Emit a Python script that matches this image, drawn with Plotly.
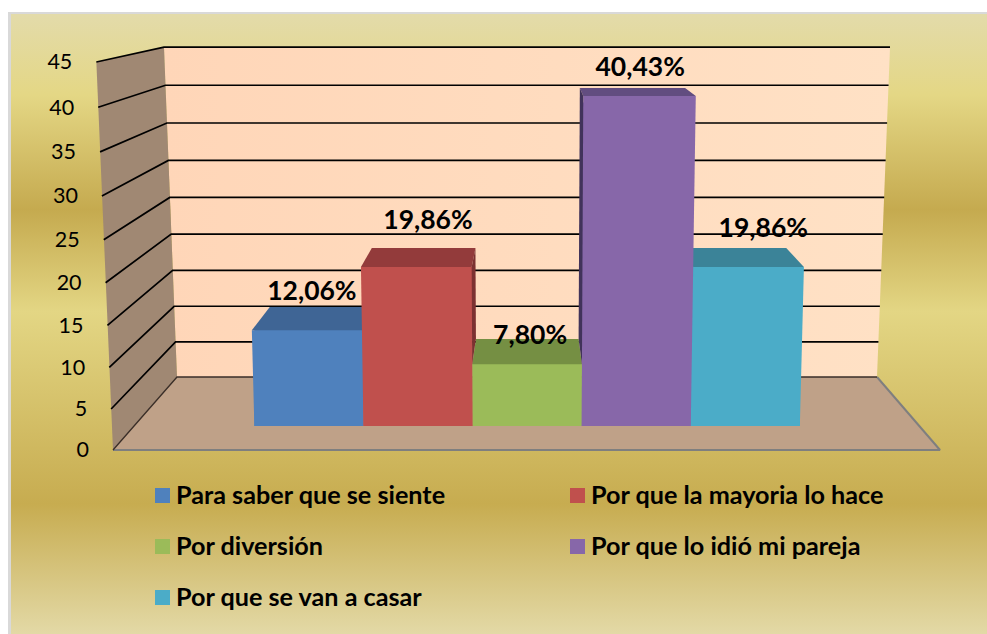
import plotly.graph_objects as go

# ---- data -------------------------------------------------------------
categories = ["Para saber que se siente", "Por que la mayoria lo hace", "Por diversión",
              "Por que lo idió mi pareja", "Por que se van a casar"]
values = [12.06, 19.86, 7.80, 40.43, 19.86]
value_labels = ["12,06%", "19,86%", "7,80%", "40,43%", "19,86%"]
tick_values = [0, 5, 10, 15, 20, 25, 30, 35, 40, 45]

# ---- style ------------------------------------------------------------
front_colors = ["#4F81BD", "#C0504D", "#9BBB59", "#8767A9", "#4BACC8"]
top_colors = ["#3F6595", "#933B3B", "#758F43", "#624D80", "#3B8398"]
side_colors = ["#33527A", "#7C3131", "#5F7536", "#41335A", "#30697A"]
label_dx = [3, 10, 3, 4, 18]      # label offset from bar centre, px
label_dy = [37, 45, 27, 27, 37]   # label offset above the front top, px
paint_order = [0, 4, 2, 1, 3]

W, H = 987, 634
BAR_PX_X, BAR_PX_Y = 109.1, 8.0   # px per category, px per value unit
X0_PX, Y0_PX = 308.9, 426.0       # position of category 0 and value 0
VP_X, VP_Y, DEPTH, SPREAD = 530.0, -30.0, 0.0645, 9.5e-5


def dx(px):
    return (px - X0_PX) / BAR_PX_X


def dy(py):
    return (Y0_PX - py) / BAR_PX_Y


x_range = [dx(0), dx(W)]
y_range = [dy(H), dy(0)]


# perspective of the chart box, in screen px
def bar_py(v):
    return Y0_PX - (7.845 * v + 0.0078 * v * v)


def bar_px(edge, py):
    base = X0_PX + (edge - 0.5) * BAR_PX_X
    return VP_X + (base - VP_X) * (1 + SPREAD * (Y0_PX - py))


def back(px, py):
    return px + DEPTH * (VP_X - px), py + DEPTH * (VP_Y - py)


def wall_back_py(v):
    return 377 - (7.0 * v + 0.00733 * v * v)


def wall_front_py(v):
    return 450 - (8.15 * v + 0.0105 * v * v)


def wall_front_px(v):
    return 113 - 0.37 * v


def poly(points, color, xa="x", ya="y", **kw):
    xs = [dx(p[0]) for p in points] + [dx(points[0][0])]
    ys = [dy(p[1]) for p in points] + [dy(points[0][1])]
    return go.Scatter(x=xs, y=ys, mode="lines", fill="toself", fillcolor=color,
                      line=dict(width=0, color=color), xaxis=xa, yaxis=ya,
                      hoverinfo="skip", showlegend=False, **kw)


fig = go.Figure()

# chart background
fig.add_trace(poly([(8, 12), (W, 12), (W, H), (8, H)], "#D9D9D9"))
bg_gradient = dict(type="vertical", colorscale=[
    [0.00, "#E3D9A6"], [0.21, "#C7AC50"], [0.52, "#E3D684"], [0.684, "#C5AA4F"], [0.87, "#E4D785"], [1.00, "#E3DBAA"]])
fig.add_trace(poly([(11, 14), (W, 14), (W, H), (11, H)], "#E3D684", fillgradient=bg_gradient))

# walls and floor
t = max(tick_values)
fig.add_trace(poly([(177, 377), (877, 377), (877 + 0.289 * t, wall_back_py(t)), (177 - 0.289 * t, wall_back_py(t))],
                   "#FFD9BC",
                   fillgradient=dict(type="horizontal",
                                     colorscale=[[0, "#FFD6B8"], [1, "#FFE1C5"]])))
fig.add_trace(poly([(wall_front_px(0), wall_front_py(0)), (177, 377), (177 - 0.289 * t, wall_back_py(t)),
                    (wall_front_px(t), wall_front_py(t))], "#A08873"))
fig.add_trace(poly([(113, 450), (177, 377), (877, 377), (940, 450)], "#BFA188"))


def line(points, color, width):
    fig.add_trace(go.Scatter(x=[dx(p[0]) for p in points], y=[dy(p[1]) for p in points], mode="lines",
                             line=dict(color=color, width=width), hoverinfo="skip", showlegend=False))


line([(113, 450), (940, 450), (877, 377)], "#7F7F7F", 2)
for v in tick_values:
    by = wall_back_py(v)
    color = "#3A2E28" if v == 0 else "#000000"
    line([(wall_front_px(v), wall_front_py(v)), (177 - 0.289 * v, by), (877 + 0.289 * v, by)], color, 1.7 if v else 1.3)

# axis labels, following the slanted front edge
fig.add_trace(go.Scatter(x=[dx(wall_front_px(v) - 24) for v in tick_values],
                         y=[dy(wall_front_py(v) + 2) for v in tick_values],
                         mode="text", text=[str(v) for v in tick_values], textposition="middle left",
                         textfont=dict(family="Lato", size=21.5, color="#000000"),
                         hoverinfo="skip", showlegend=False))

# bars: front faces come from the data through the overlay axes
for i in range(len(values)):
    fig.add_trace(go.Bar(x=[i], y=[values[i]], width=1.0, marker=dict(color=front_colors[i], line=dict(width=0)),
                         name=categories[i], xaxis="x2", yaxis="y2", showlegend=False))

# perspective faces
for i in paint_order:
    py = bar_py(values[i])
    lt, rt = bar_px(i, py), bar_px(i + 1, py)
    lb, rb = bar_px(i, Y0_PX), bar_px(i + 1, Y0_PX)
    fig.add_trace(poly([(lb, Y0_PX), (rb, Y0_PX), (rt, py), (lt, py)], front_colors[i], "x2", "y2"))
    blx, bly = back(lt, py)
    brx, bry = back(rt, py)
    fig.add_trace(poly([(lt, py), (rt, py), (brx, bry), (blx, bly)], top_colors[i], "x2", "y2"))
    # a side face shows only above a shorter neighbour
    if brx > rt and i + 1 < len(values) and values[i + 1] < values[i]:
        ny = bar_py(values[i + 1])
        nx = bar_px(i + 1, ny)
        fig.add_trace(poly([(rt, py), (brx, bry), back(nx, ny), (nx, ny)], side_colors[i], "x2", "y2"))
    if blx < lt and i > 0 and values[i - 1] < values[i]:
        ny = bar_py(values[i - 1])
        nx = bar_px(i, ny)
        fig.add_trace(poly([(lt, py), (blx, bly), back(nx, ny), (nx, ny)], side_colors[i], "x2", "y2"))

# value labels
fig.add_trace(go.Scatter(
    x=[i + label_dx[i] / BAR_PX_X for i in range(len(values))],
    y=[dy(bar_py(values[i]) - label_dy[i]) for i in range(len(values))],
    mode="text", text=value_labels, textposition="middle center",
    textfont=dict(family="Lato", size=26.5, color="#000000", weight="bold"),
    xaxis="x2", yaxis="y2", hoverinfo="skip", showlegend=False))

# legend, two columns
legend_px = [155, 570, 155, 570, 155]
legend_py = [495.5, 495.5, 546.5, 546.5, 597.5]
fig.add_trace(go.Scatter(x=[dx(p + 7.5) for p in legend_px], y=[dy(p) for p in legend_py], mode="markers",
                         marker=dict(symbol="square", size=15, color=front_colors, line=dict(width=0)),
                         xaxis="x2", yaxis="y2", hoverinfo="skip", showlegend=False))
annotations = [dict(x=dx(legend_px[i] + 18.5), y=dy(legend_py[i] - 2), xref="x2", yref="y2", text=categories[i],
                    showarrow=False, xanchor="left", yanchor="middle",
                    font=dict(family="Lato", size=25.2, color="#000000", weight="bold"))
               for i in range(len(categories))]

axis = dict(visible=False, fixedrange=True)
fig.update_layout(
    width=W, height=H, margin=dict(l=0, r=0, t=0, b=0), paper_bgcolor="#FFFFFF", plot_bgcolor="#FFFFFF",
    barmode="overlay", showlegend=False, annotations=annotations,
    xaxis=dict(range=x_range, **axis), yaxis=dict(range=y_range, **axis),
    xaxis2=dict(range=x_range, overlaying="x", **axis), yaxis2=dict(range=y_range, overlaying="y", **axis),
)
fig.write_html("out.html", config=dict(displayModeBar=False),
               post_script="document.body.style.margin='0';document.documentElement.style.overflow='hidden';")
